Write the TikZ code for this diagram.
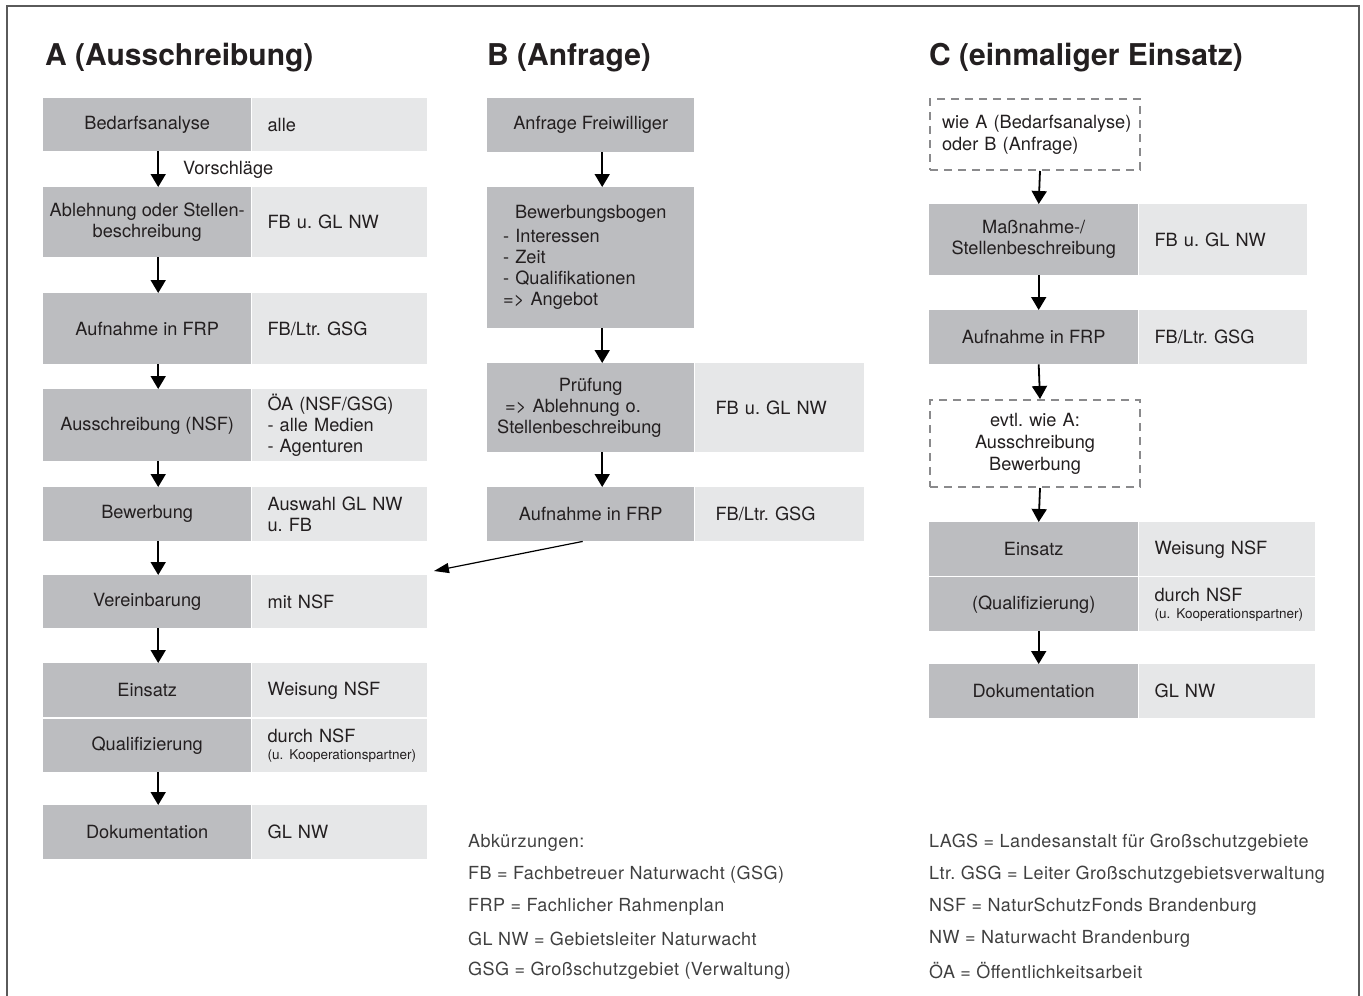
\documentclass[tikz,border=0pt]{standalone}
\usepackage{fontspec}
\setmainfont{TeX Gyre Heros}
\newfontfamily\abbrfont[LetterSpace=2.5]{TeX Gyre Heros}
\usetikzlibrary{positioning,arrows.meta}
\definecolor{boxdark}{HTML}{BCBDC0}
\definecolor{boxlight}{HTML}{E6E7E8}
\definecolor{framegray}{HTML}{5A5A5A}
\definecolor{dashgray}{HTML}{8A8A8C}
\definecolor{textblack}{HTML}{231F20}
\frenchspacing

\begin{document}
\begin{tikzpicture}[x=1pt,y=-1pt,text=textblack] % Ablauf Freiwillige
\tikzstyle{titel} = [anchor=base west, inner sep=0pt, font=\fontsize{30}{34}\selectfont\bfseries] % column heading
\tikzstyle{schritt} = [fill=boxdark, anchor=north west, inner sep=0pt, align=center, font=\fontsize{18.2}{21}\selectfont] % dark step box
\tikzstyle{wer} = [fill=boxlight, inner xsep=16pt, inner ysep=0pt, align=left, font=\fontsize{18.2}{21}\selectfont] % who is in charge
\tikzstyle{vorlauf} = [draw=dashgray, line width=2pt, dash pattern=on 8pt off 6pt, anchor=north west, inner ysep=0pt, font=\fontsize{18.2}{22}\selectfont] % dashed box
\tikzstyle{pfeil} = [line width=1.8pt, -{Triangle[length=13pt,width=15pt]}] % vertical arrow
\tikzstyle{abk} = [anchor=west, inner sep=0pt, text=black!75, font=\abbrfont\fontsize{18}{20}\selectfont] % abbreviations
\newcommand{\klein}{\fontsize{13.5}{14}\selectfont}

\useasboundingbox (0,0) rectangle (1363,996);
\draw[framegray, line width=1.5pt] (7,996) -- (7,6) -- (1359,6) -- (1359,996);

%
\node[titel] (tA) at (45,65) {A (Ausschreibung)};
\node[titel] (tB) at (487,65) {B (Anfrage)};
\node[titel] (tC) at (929,65) {C (einmaliger Einsatz)};

% column A
\node[schritt, minimum width=208pt, minimum height=53pt] (a1) at (43,98) {Bedarfsanalyse};
\node[wer, text width=143pt, minimum height=53pt, right=0pt of a1] (a1r) {alle};
\node[schritt, minimum width=208pt, minimum height=70pt] (a2) at (43,187) {Ablehnung oder Stellen-\\beschreibung};
\node[wer, text width=143pt, minimum height=70pt, right=0pt of a2] (a2r) {FB u. GL NW};
\node[schritt, minimum width=208pt, minimum height=71pt] (a3) at (43,293) {Aufnahme in FRP};
\node[wer, text width=143pt, minimum height=71pt, right=0pt of a3] (a3r) {FB/Ltr. GSG};
\node[schritt, minimum width=208pt, minimum height=72pt] (a4) at (43,389) {Ausschreibung (NSF)};
\node[wer, text width=143pt, minimum height=72pt, right=0pt of a4] (a4r) {ÖA (NSF/GSG)\\- alle Medien\\- Agenturen};
\node[schritt, minimum width=208pt, minimum height=54pt] (a5) at (43,487) {Bewerbung};
\node[wer, text width=143pt, minimum height=54pt, right=0pt of a5] (a5r) {Auswahl GL NW\\u. FB};
\node[schritt, minimum width=208pt, minimum height=53pt] (a6) at (43,575) {Vereinbarung};
\node[wer, text width=143pt, minimum height=53pt, right=0pt of a6] (a6r) {mit NSF};
\node[schritt, minimum width=208pt, minimum height=54pt] (a7) at (43,663) {Einsatz};
\node[wer, text width=143pt, minimum height=54pt, right=0pt of a7] (a7r) {Weisung NSF};
\node[schritt, minimum width=208pt, minimum height=53pt] (a8) at (43,719) {Qualifizierung};
\node[wer, text width=143pt, minimum height=53pt, right=0pt of a8] (a8r) {durch NSF\\[-4pt]\mbox{\klein (u. Kooperationspartner)}};
\node[schritt, minimum width=208pt, minimum height=54pt] (a9) at (43,805) {Dokumentation};
\node[wer, text width=143pt, minimum height=54pt, right=0pt of a9] (a9r) {GL NW};
\foreach \i/\j in {a1/a2,a2/a3,a3/a4,a4/a5,a5/a6,a6/a7,a8/a9}
  \draw[pfeil] ([xshift=11pt]\i.south) -- ([xshift=11pt]\j.north);
\node[anchor=west, inner sep=0pt, font=\fontsize{18.2}{21}\selectfont] (vor) at (183,170) {Vorschläge};

% column B
\node[schritt, minimum width=207pt, minimum height=54pt] (b1) at (487,98) {Anfrage Freiwilliger};
\node[schritt, text width=175pt, inner xsep=16pt, minimum height=141pt, align=left] (b2) at (487,187)
  {{\centering Bewerbungsbogen\par}\vspace{3pt}- Interessen\\- Zeit\\- Qualifikationen\\=> Angebot};
\node[schritt, text width=187pt, inner xsep=10pt, minimum height=89pt, align=left] (b3) at (487,363)
  {{\centering Prüfung\par}\hspace{8pt}=> Ablehnung o.\\Stellenbeschreibung};
\node[wer, inner xsep=21pt, text width=127pt, minimum height=89pt, right=0pt of b3] (b3r) {FB u. GL NW};
\node[schritt, minimum width=207pt, minimum height=54pt] (b4) at (487,487) {Aufnahme in FRP};
\node[wer, inner xsep=21pt, text width=127pt, minimum height=54pt, right=0pt of b4] (b4r) {FB/Ltr. GSG};
\foreach \i/\j in {b1/b2,b2/b3,b3/b4}
  \draw[pfeil] ([xshift=11.5pt]\i.south) -- ([xshift=11.5pt]\j.north);
\coordinate (ziel) at (434,571);
\draw[line width=1.2pt, -{Triangle[length=15pt,width=10pt]}] ([xshift=-8pt]b4.south) -- (ziel);

% column C
\node[vorlauf, text width=186pt, inner xsep=12pt, minimum height=71pt, align=left] (c1) at (929,98)
  {\mbox{wie A (Bedarfsanalyse)}\\\mbox{oder B (Anfrage)}};
\node[schritt, minimum width=209pt, minimum height=71pt] (c2) at (929,204) {Maßnahme-/\\Stellenbeschreibung};
\node[wer, text width=136pt, minimum height=71pt, right=0pt of c2] (c2r) {FB u. GL NW};
\node[schritt, minimum width=209pt, minimum height=54pt] (c3) at (929,310) {Aufnahme in FRP};
\node[wer, text width=136pt, minimum height=54pt, right=0pt of c3] (c3r) {FB/Ltr. GSG};
\node[vorlauf, text width=186pt, inner xsep=12pt, minimum height=87pt, align=center] (c4) at (929,399)
  {evtl. wie A:\\Ausschreibung\\Bewerbung};
\node[schritt, minimum width=209pt, minimum height=54pt] (c5) at (929,522) {Einsatz};
\node[wer, text width=144pt, minimum height=54pt, right=0pt of c5] (c5r) {Weisung NSF};
\node[schritt, minimum width=209pt, minimum height=54pt] (c6) at (929,577) {(Qualifizierung)};
\node[wer, text width=144pt, minimum height=54pt, right=0pt of c6] (c6r) {durch NSF\\[-4pt]\mbox{\klein (u. Kooperationspartner)}};
\node[schritt, minimum width=209pt, minimum height=54pt] (c7) at (929,664) {Dokumentation};
\node[wer, text width=144pt, minimum height=54pt, right=0pt of c7] (c7r) {GL NW};
\foreach \i/\j in {c1/c2,c2/c3,c3/c4,c4/c5,c6/c7}
  \draw[pfeil] ([xshift=5pt]\i.south) -- ([xshift=5pt]\j.north);

% abbreviations
\foreach \txt [count=\i] in {Abkürzungen:, FB = Fachbetreuer Naturwacht (GSG), FRP = Fachlicher Rahmenplan,
    GL NW = Gebietsleiter Naturwacht, GSG = Großschutzgebiet (Verwaltung)}
  \node[abk] (abl\i) at (468,811+32*\i) {\txt};
\foreach \txt [count=\i] in {LAGS = Landesanstalt für Großschutzgebiete, Ltr. GSG = Leiter Großschutzgebietsverwaltung,
    NSF = NaturSchutzFonds Brandenburg, NW = Naturwacht Brandenburg, ÖA = Öffentlichkeitsarbeit}
  \node[abk] (abr\i) at (929,811+32*\i) {\txt};
\end{tikzpicture}
\end{document}
